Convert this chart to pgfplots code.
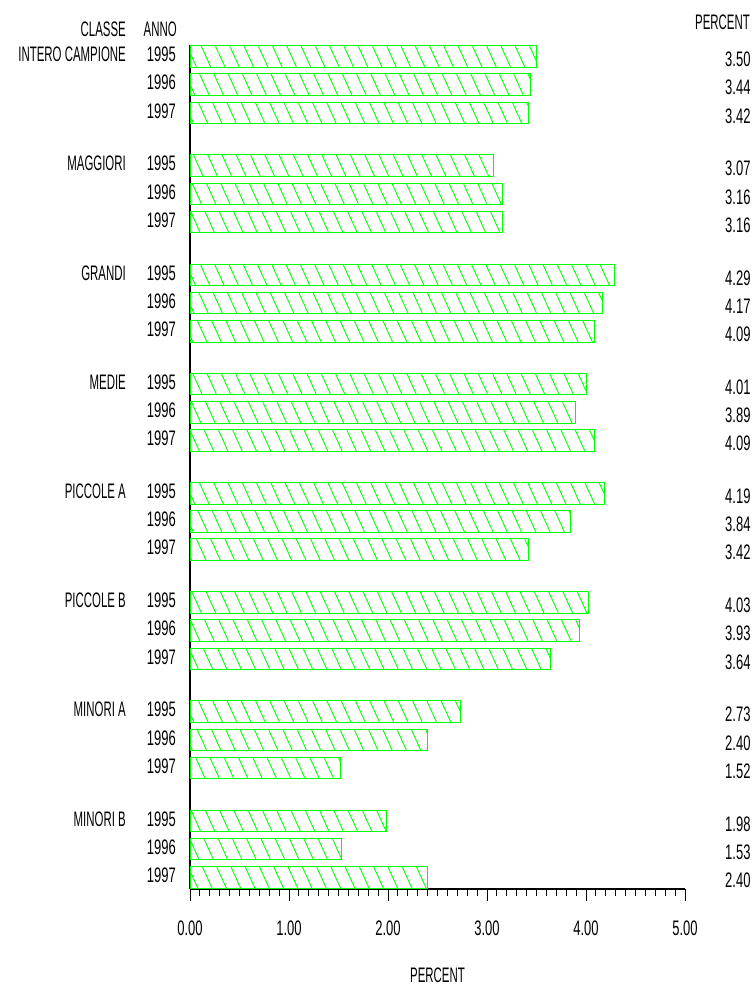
\documentclass[border=0pt]{standalone}
\usepackage{fontspec}
\setmainfont{Liberation Sans}[FakeStretch=0.62]
\newfontfamily\lbl{Liberation Sans}[FakeStretch=0.545]
\usepackage{pgfplots}
\pgfplotsset{compat=1.18}
\usepackage{pgfplotstable}
\usetikzlibrary{patterns.meta}
\definecolor{hg}{RGB}{0,255,0}

\pgfplotstableread{
y val
0 3.50
-1 3.44
-2 3.42
-3.875 3.07
-4.875 3.16
-5.875 3.16
-7.75 4.29
-8.75 4.17
-9.75 4.09
-11.625 4.01
-12.625 3.89
-13.625 4.09
-15.5 4.19
-16.5 3.84
-17.5 3.42
-19.375 4.03
-20.375 3.93
-21.375 3.64
-23.25 2.73
-24.25 2.40
-25.25 1.52
-27.125 1.98
-28.125 1.53
-29.125 2.40
}\datatable

\newcommand{\grp}[1]{\llap{\lbl #1\hspace{21bp}}1995}

\begin{document}
\fontsize{21bp}{24bp}\selectfont
\begin{tikzpicture}
\path[use as bounding box] (0,0) rectangle (756bp,987bp);
\begin{axis}[
  at={(190bp,98bp)}, anchor=south west,
  scale only axis, width=495bp, height=844bp,
  xmin=0, xmax=5, ymin=-29.54, ymax=0.408,
  axis x line*=bottom, axis y line*=left,
  axis line style={black, line width=1.1bp},
  clip=false,
  /pgf/number format/assume math mode=true,
  xtick={0,1,2,3,4,5},
  minor x tick num=9,
  tick align=outside,
  major tick length=12bp, minor tick length=7bp,
  tick style={black, line width=1bp},
  xticklabel={\pgfmathprintnumber[fixed,fixed zerofill,precision=2]{\tick}},
  xticklabel style={anchor=center, yshift=-27bp},
  ytick={0,-1,-2,-3.875,-4.875,-5.875,-7.75,-8.75,-9.75,-11.625,-12.625,-13.625,-15.5,-16.5,-17.5,-19.375,-20.375,-21.375,-23.25,-24.25,-25.25,-27.125,-28.125,-29.125},
  yticklabels={{\grp{INTERO CAMPIONE}},1996,1997,
               {\grp{MAGGIORI}},1996,1997,
               {\grp{GRANDI}},1996,1997,
               {\grp{MEDIE}},1996,1997,
               {\grp{PICCOLE A}},1996,1997,
               {\grp{PICCOLE B}},1996,1997,
               {\grp{MINORI A}},1996,1997,
               {\grp{MINORI B}},1996,1997},
  ytick style={draw=none},
  yticklabel style={anchor=east, inner sep=0pt, xshift=-2bp, yshift=2bp},
  xlabel={\lbl PERCENT},
  xlabel style={at={(rel axis cs:0.5,0)}, anchor=center, yshift=-86bp},
]
\addplot[xbar, bar width=0.77, draw=hg, line width=1bp,
  pattern={Lines[angle=-65.6, distance=13bp, line width=0.9bp]}, pattern color=hg]
  table[x=val, y=y] {\datatable};
\addplot[draw=none, mark=none, nodes near coords, point meta=explicit,
  every node near coord/.append style={anchor=east, inner sep=0pt, yshift=-3bp,
    /pgf/number format/fixed, /pgf/number format/fixed zerofill,
    /pgf/number format/precision=2}]
  table[x expr=5.664, y=y, meta=val] {\datatable};
\end{axis}
\node[anchor=east, inner sep=0pt] at (126bp,958bp) {\lbl CLASSE};
\node[anchor=east, inner sep=0pt] at (177bp,958bp) {\lbl ANNO};
\node[anchor=east, inner sep=0pt] at (750bp,965bp) {\lbl PERCENT};
\end{tikzpicture}
\end{document}
